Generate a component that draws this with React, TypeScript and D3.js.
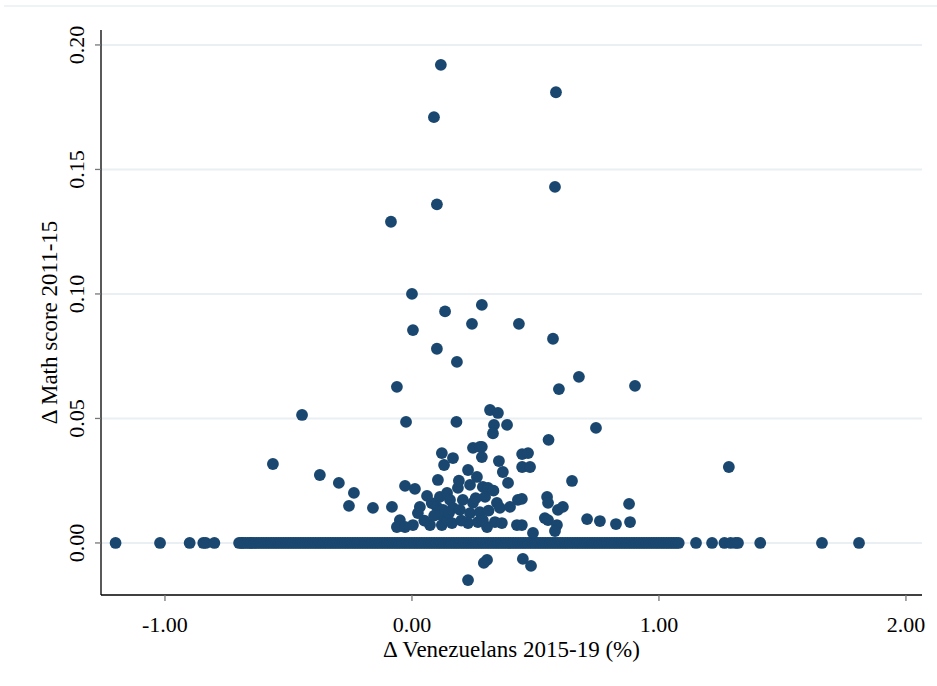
import React from "react";
import * as d3 from "d3";

// Points with a non-zero change in math score
const xNonZero: number[] = [
  0.117, 0.583, 0.089, 0.579, 0.101, -0.085, 0.0, 0.283, 0.134, 0.004,
  0.243, 0.433, 0.571, 0.101, 0.182, 0.676, 0.595, 0.903, -0.061, -0.445,
  -0.024, 0.18, 0.745, 0.316, 0.348, 0.332, 0.328, 0.385, 0.553, 0.283,
  0.283, 0.121, 0.13, 0.166, 0.247, 0.275, 0.227, 0.105, 0.263, -0.028,
  0.012, 0.061, 0.186, 0.235, -0.158, -0.081, 0.032, 0.024, 0.113, 0.142,
  0.154, 0.101, 0.126, 0.166, 0.206, 0.247, 0.194, 0.235, 0.275, -0.049,
  -0.061, -0.028, 0.004, 0.073, 0.121, 0.162, 0.227, 0.267, 0.304, 0.121,
  0.142, 0.446, 0.47, 0.352, 0.368, 0.446, 0.478, 0.389, 0.648, 0.287,
  0.308, 0.296, 0.547, 0.551, 0.429, 0.445, 0.344, 0.356, 0.397, 0.591,
  0.611, 0.287, 0.336, 0.364, 0.538, 0.551, 0.587, 0.579, 0.425, 0.445,
  0.49, 0.709, 0.761, 1.283, 0.879, 0.826, 0.883, -0.563, -0.373, -0.296,
  -0.235, -0.255, 0.227, 0.304, 0.291, 0.449, 0.482, 0.09, 0.15, 0.2,
  0.258, 0.05, 0.08, 0.19, 0.31, 0.33,
];
const yNonZero: number[] = [
  0.192, 0.181, 0.171, 0.143, 0.136, 0.129, 0.1, 0.0956, 0.093, 0.0855,
  0.088, 0.088, 0.082, 0.078, 0.0727, 0.0667, 0.0618, 0.0631, 0.0627, 0.0514,
  0.0486, 0.0486, 0.0462, 0.0534, 0.0522, 0.0474, 0.044, 0.0474, 0.0414, 0.0386,
  0.0345, 0.0361, 0.0313, 0.0341, 0.0382, 0.0386, 0.0293, 0.0253, 0.0265, 0.0229,
  0.0217, 0.0189, 0.0221, 0.0233, 0.0141, 0.0145, 0.0145, 0.012, 0.0185, 0.0201,
  0.0173, 0.0145, 0.0133, 0.0141, 0.0173, 0.0161, 0.0133, 0.012, 0.0124, 0.0092,
  0.0064, 0.0064, 0.0072, 0.0072, 0.0072, 0.008, 0.008, 0.0084, 0.0064, 0.0112,
  0.0092, 0.0357, 0.0361, 0.0329, 0.0285, 0.0305, 0.0305, 0.0241, 0.0249, 0.0225,
  0.0221, 0.0185, 0.0185, 0.0161, 0.0173, 0.0177, 0.0161, 0.0141, 0.0145, 0.0133,
  0.0145, 0.0092, 0.0084, 0.008, 0.01, 0.0092, 0.0072, 0.0048, 0.0072, 0.0072,
  0.004, 0.0096, 0.0088, 0.0305, 0.0157, 0.0076, 0.0084, 0.0317, 0.0273, 0.0241,
  0.0201, 0.0149, -0.0149, -0.0068, -0.008, -0.0064, -0.0092, 0.011, 0.012, 0.009,
  0.018, 0.009, 0.016, 0.025, 0.013, 0.021,
];

// Points whose change in math score is zero (x values only)
const xZero: number[] = [
  -1.2, -1.02, -0.9, -0.845, -0.835, -0.8, -0.7, -0.69, -0.685, -0.675,
  -0.665, -0.655, -0.65, -0.64, -0.63, -0.62, -0.61, -0.6, -0.59, -0.58,
  -0.57, -0.56, -0.55, -0.54, -0.53, -0.52, -0.51, -0.5, -0.49, -0.48,
  -0.47, -0.46, -0.45, -0.44, -0.43, -0.42, -0.41, -0.4, -0.39, -0.38,
  -0.37, -0.36, -0.35, -0.34, -0.33, -0.32, -0.31, -0.3, -0.29, -0.28,
  -0.27, -0.26, -0.25, -0.24, -0.23, -0.22, -0.21, -0.2, -0.19, -0.18,
  -0.17, -0.16, -0.15, -0.14, -0.13, -0.12, -0.11, -0.1, -0.09, -0.08,
  -0.07, -0.06, -0.05, -0.04, -0.03, -0.02, -0.01, 0.0, 0.01, 0.02,
  0.03, 0.04, 0.05, 0.06, 0.07, 0.08, 0.09, 0.1, 0.11, 0.12,
  0.13, 0.14, 0.15, 0.16, 0.17, 0.18, 0.19, 0.2, 0.21, 0.22,
  0.23, 0.24, 0.25, 0.26, 0.27, 0.28, 0.29, 0.3, 0.31, 0.32,
  0.33, 0.34, 0.35, 0.36, 0.37, 0.38, 0.39, 0.4, 0.41, 0.42,
  0.43, 0.44, 0.45, 0.46, 0.47, 0.48, 0.49, 0.5, 0.51, 0.52,
  0.53, 0.54, 0.55, 0.56, 0.57, 0.58, 0.59, 0.6, 0.61, 0.62,
  0.63, 0.64, 0.65, 0.66, 0.67, 0.68, 0.69, 0.7, 0.71, 0.72,
  0.73, 0.74, 0.75, 0.76, 0.77, 0.78, 0.79, 0.8, 0.81, 0.82,
  0.83, 0.84, 0.85, 0.86, 0.87, 0.88, 0.89, 0.9, 0.91, 0.92,
  0.93, 0.94, 0.95, 0.96, 0.97, 0.98, 0.99, 1.0, 1.01, 1.02,
  1.03, 1.04, 1.05, 1.06, 1.07, 1.08, 1.15, 1.215, 1.265, 1.29,
  1.31, 1.32, 1.41, 1.66, 1.81,
];

const xTicks: number[] = [-1, 0, 1, 2];
const yTicks: number[] = [0, 0.05, 0.1, 0.15, 0.2];
const xTitle = "Δ Venezuelans 2015-19 (%)";
const yTitle = "Δ Math score 2011-15";

const W = 937;
const H = 686;
const left = 101;
const right = 922;
const top = 30;
const bottom = 595;
const dotColor = "#1a476f";
const gridColor = "#e9eff2";
const font = "'Liberation Serif', 'Times New Roman', serif";

const fmt = (v: number) => d3.format(".2f")(v).replace("−", "-");

export default function App() {
  const x = d3.scaleLinear().domain([-1.259, 2.065]).range([left, right]);
  const y = d3.scaleLinear().domain([-0.0209, 0.206]).range([bottom, top]);

  const pts: { x: number; y: number }[] = [];
  xZero.forEach((v) => pts.push({ x: v, y: 0 }));
  xNonZero.forEach((v, i) => pts.push({ x: v, y: yNonZero[i] }));

  return (
    <svg
      width={W}
      height={H}
      style={{ position: "absolute", left: 0, top: 0, background: "#fff" }}
    >
      <rect x={0} y={0} width={W} height={H} fill="#fff" />
      <line x1={4} x2={W} y1={6} y2={6} stroke={gridColor} strokeWidth={1.5} />
      {yTicks.map((t) => (
        <line
          key={"g" + t}
          x1={left}
          x2={right}
          y1={y(t)}
          y2={y(t)}
          stroke={gridColor}
          strokeWidth={2}
        />
      ))}
      {pts.map((p, i) => (
        <circle key={i} cx={x(p.x)} cy={y(p.y)} r={5.9} fill={dotColor} />
      ))}
      {/* axes */}
      <line x1={left} x2={left} y1={top} y2={bottom} stroke="#000" strokeWidth={1.3} />
      <line x1={left} x2={right} y1={bottom} y2={bottom} stroke="#000" strokeWidth={1.3} />
      {yTicks.map((t) => (
        <g key={"yt" + t}>
          <line x1={left - 6} x2={left} y1={y(t)} y2={y(t)} stroke="#777" strokeWidth={1.3} />
          <text
            transform={`translate(84,${y(t)}) rotate(-90)`}
            textAnchor="middle"
            fontFamily={font}
            fontSize={22}
            fill="#000"
          >
            {fmt(t)}
          </text>
        </g>
      ))}
      {xTicks.map((t) => (
        <g key={"xt" + t}>
          <line x1={x(t)} x2={x(t)} y1={bottom} y2={bottom + 6} stroke="#777" strokeWidth={1.3} />
          <text
            x={x(t)}
            y={632}
            textAnchor="middle"
            fontFamily={font}
            fontSize={22}
            fill="#000"
          >
            {fmt(t)}
          </text>
        </g>
      ))}
      <text
        x={(left + right) / 2}
        y={657}
        textAnchor="middle"
        fontFamily={font}
        fontSize={23}
        fill="#000"
      >
        {xTitle}
      </text>
      <text
        transform={`translate(57,${(top + bottom) / 2 + 10}) rotate(-90)`}
        textAnchor="middle"
        fontFamily={font}
        fontSize={23}
        fill="#000"
      >
        {yTitle}
      </text>
    </svg>
  );
}
